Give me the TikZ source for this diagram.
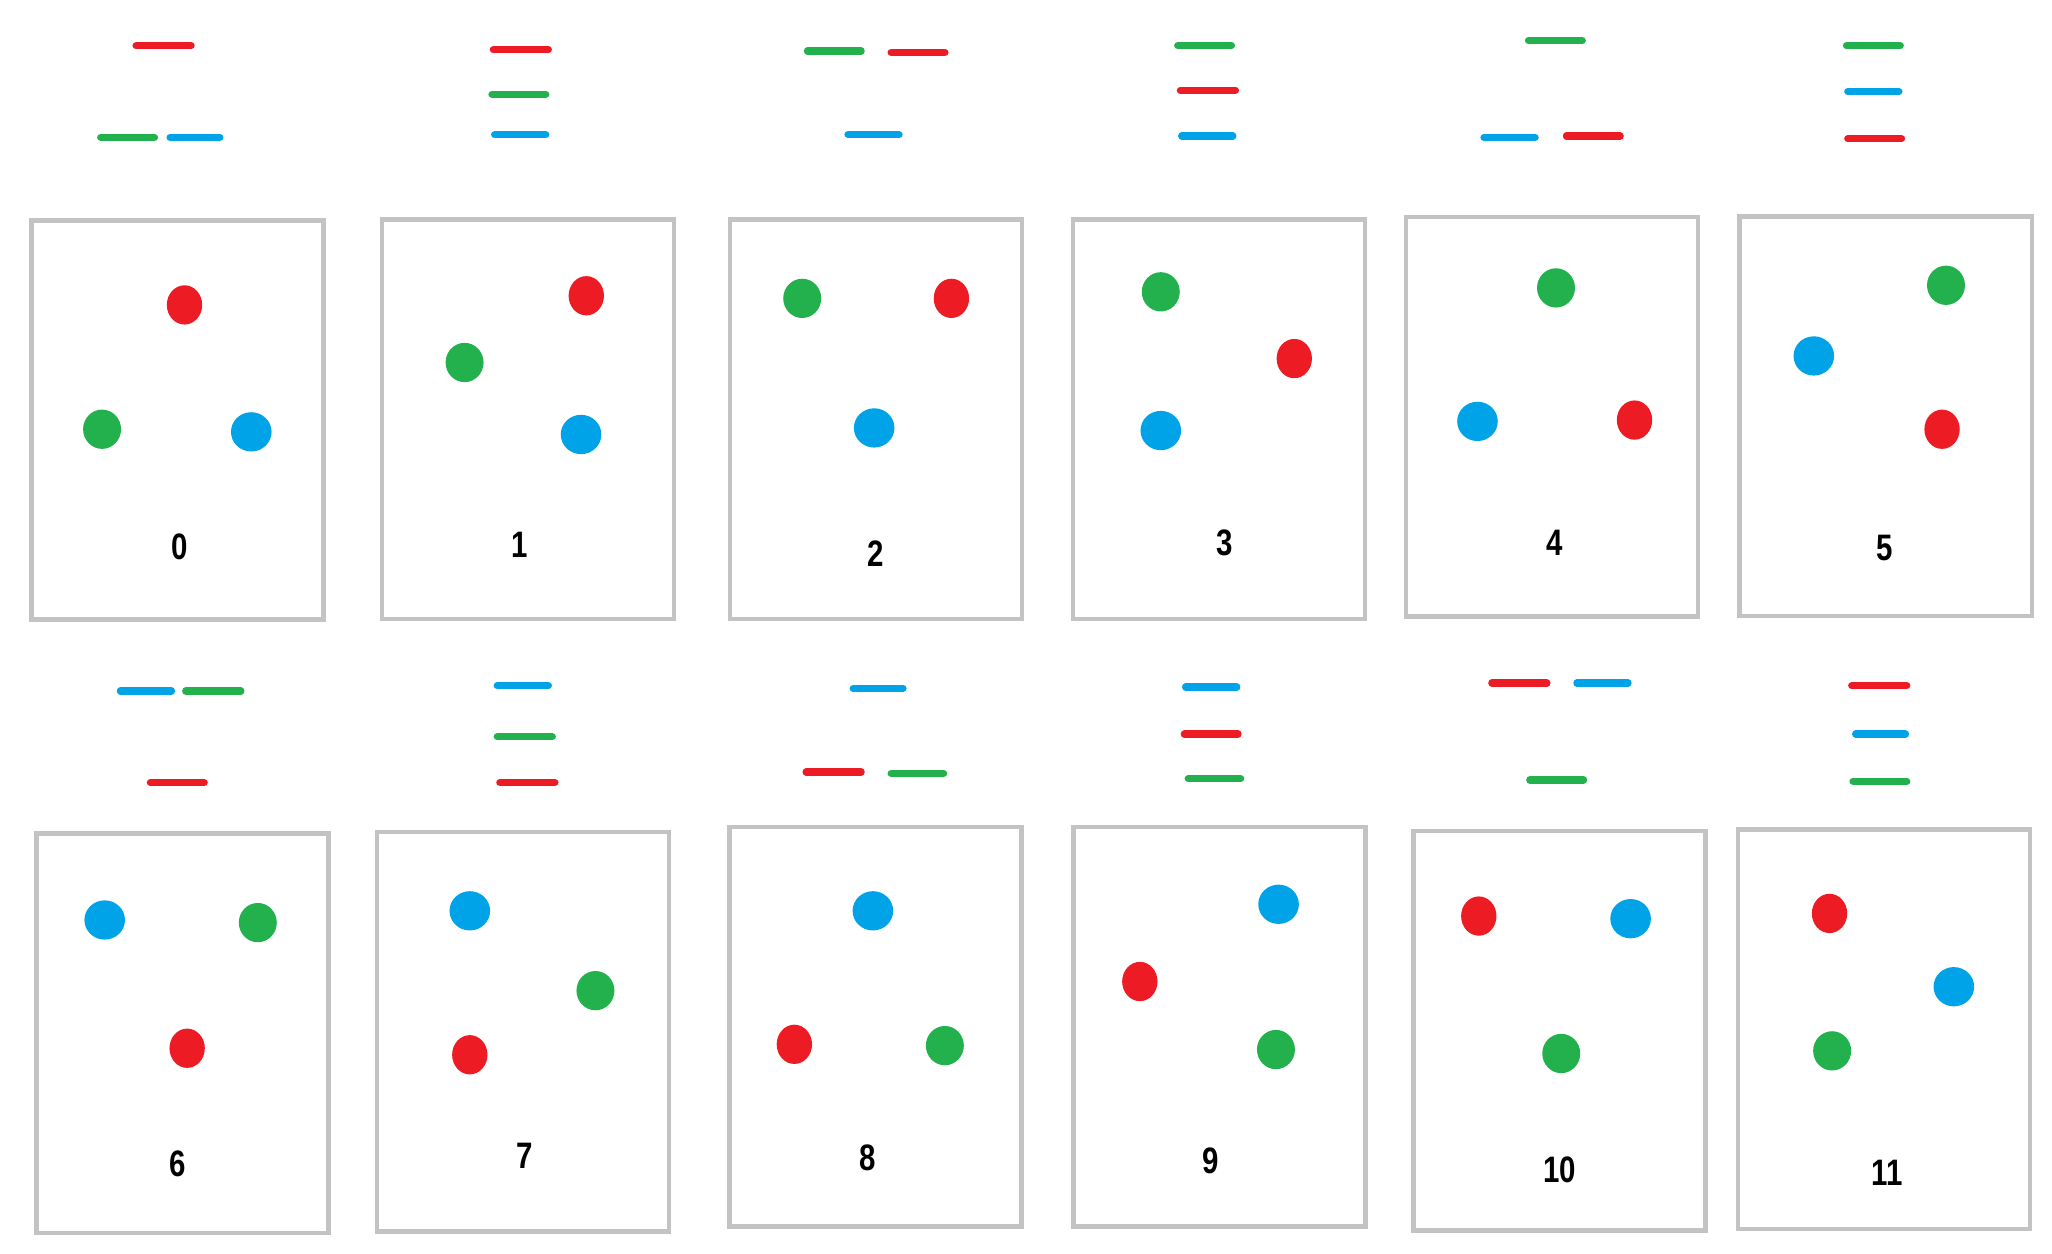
\documentclass[tikz,border=0pt]{standalone}
\usepackage{fontspec}
\newfontfamily\numfont[FakeStretch=0.8]{Liberation Sans}
\usetikzlibrary{shapes.geometric}
\definecolor{rot}{HTML}{ED1C24}
\definecolor{gruen}{HTML}{22B14C}
\definecolor{blau}{HTML}{00A2E8}
\definecolor{rahmen}{HTML}{C3C3C3}
\tikzset{
  karte/.style={draw=rahmen, line width=1pt, rectangle, inner sep=0pt,
                minimum width=2.23cm, minimum height=3.05cm},
  punkt/.style={ellipse, fill=#1, inner sep=0pt,
                minimum width=0.29cm, minimum height=0.30cm},
  strich/.style={#1, line width=1.6pt, line cap=round},
  nummer/.style={font=\numfont\bfseries\fontsize{8}{8}\selectfont, inner sep=0pt}
}
\begin{document}
\begin{tikzpicture}[x=0.01cm, y=-0.01cm]
  \useasboundingbox (0,0) rectangle (1568,958);

  % Karten mit Nummer
  \foreach \n/\cx/\cy/\lx/\ly in {0/135.5/321/137/418, 1/403.5/320.5/397/416,
      2/669.5/320.5/669/423, 3/931.5/320.5/936/415, 4/1186/318.5/1188/415,
      5/1441/318/1440/419, 6/139.5/789.5/136/889, 7/399.5/788.5/401/883,
      8/669/784.5/663/885, 9/932/784.5/925/887, 10/1191.5/787.5/1192/894,
      11/1439.5/786.5/1442/896} {
    \node[karte] (karte\n) at (\cx,\cy) {};
    \node[nummer] (nr\n) at (\lx,\ly) {\n};
  }

  % Punkte in den Karten
  \foreach \n/\rx/\ry/\gx/\gy/\bx/\by in {0/141/233/78/328/192/330,
      1/448/226/355/277/444/332, 2/727/228/613/228/668/327,
      3/989/274/887/223/887/329, 4/1249/321/1189/220/1129/322,
      5/1484/328/1487/218/1386/272, 6/143/801/197/705/80/703,
      7/359/806/455/757/359/696, 8/607/798/722/799/667/696,
      9/871/750/975/802/977/691, 10/1130/700/1193/805/1246/702,
      11/1398/698/1400/803/1493/754} {
    \node[punkt=rot, minimum width=0.27cm] (rot\n) at (\rx,\ry) {};
    \node[punkt=gruen] (gruen\n) at (\gx,\gy) {};
    \node[punkt=blau, minimum width=0.31cm] (blau\n) at (\bx,\by) {};
  }

  % Striche darueber
  \foreach \c/\xa/\xb/\y in {rot/104/146/35, gruen/77/118/105, blau/130/168/105,
      rot/377/419/38, gruen/376/417/72, blau/378/417/103,
      gruen/617/658/39, rot/681/722/40, blau/648/687/103,
      gruen/900/941/35, rot/902/944/69, blau/903/942/104,
      gruen/1168/1209/31, blau/1134/1173/105, rot/1197/1238/104,
      gruen/1411/1452/35, blau/1412/1451/70, rot/1412/1453/106,
      blau/92/131/528, gruen/142/184/528, rot/115/156/598,
      blau/380/419/524, gruen/380/422/563, rot/382/424/598,
      blau/652/690/526, rot/616/658/590, gruen/681/721/591,
      blau/906/945/525, rot/905/946/561, gruen/908/948/595,
      rot/1140/1182/522, blau/1205/1244/522, gruen/1169/1210/596,
      rot/1415/1457/524, blau/1418/1456/561, gruen/1416/1457/597} {
    \draw[strich=\c] (\xa,\y) -- (\xb,\y);
  }
\end{tikzpicture}
\end{document}
